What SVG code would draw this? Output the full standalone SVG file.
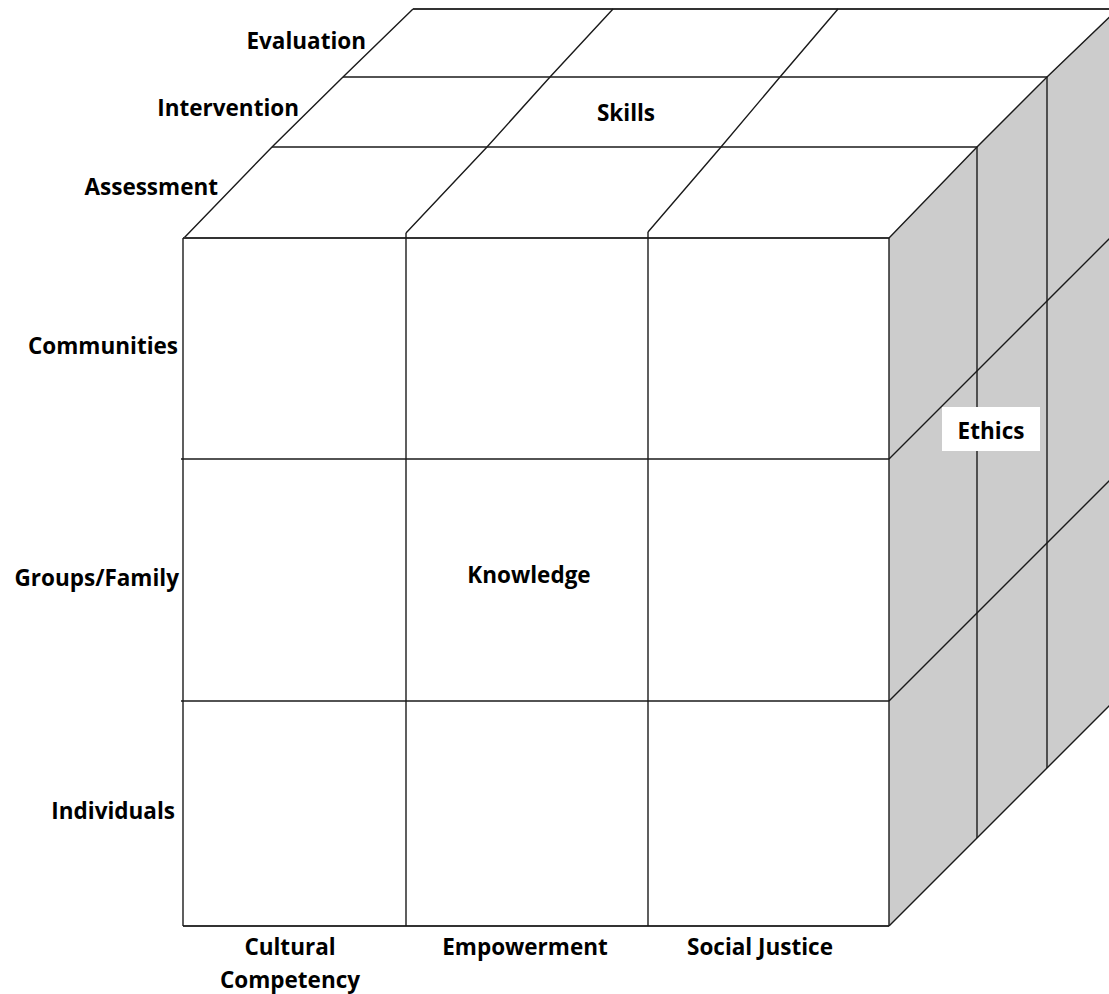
<svg xmlns="http://www.w3.org/2000/svg" width="1109" height="994" viewBox="0 0 1109 994">
  <style>
    .ln { fill: none; stroke: #1a1a1a; stroke-width: 1.4; stroke-linejoin: miter; }
    .edge { fill: none; stroke: #333; stroke-width: 1.8; }
    .lbl { font-family: "Open Sans", "Liberation Sans", sans-serif; font-weight: 700; font-size: 22.5px; fill: #000; font-variant-ligatures: none; }
  </style>
  <rect width="1109" height="994" fill="#fff"/>
  <g id="top-face">
    <polygon points="184,238 413,9 1120,9 889,238" fill="#fff"/>
    <polyline class="ln" points="184,238 272,147 343,77 413,9"/>
    <line class="edge" x1="413" y1="9" x2="1109" y2="9"/>
    <polyline class="ln" points="406,233 487,147 550,77 613,9"/>
    <polyline class="ln" points="648,232 721,147 780,77 838,9"/>
    <line class="ln" x1="272" y1="147" x2="977" y2="147"/>
    <line class="ln" x1="343" y1="77" x2="1047" y2="77"/>
  </g>
  <g id="right-face">
    <polygon points="889,238 977,147 1047,77 1120,7 1120,695 1047,768 977,838 889,926" fill="#cccccc"/>
    <polyline class="ln" points="889,238 977,147 1047,77 1120,7"/>
    <line class="ln" x1="977" y1="147" x2="977" y2="838"/>
    <line class="ln" x1="1047" y1="77" x2="1047" y2="768"/>
    <polyline class="ln" points="889,926 977,838 1047,768 1120,695"/>
    <polyline class="ln" points="889,459 977,371 1047,301 1120,228"/>
    <polyline class="ln" points="889,701 977,613 1047,543 1120,470"/>
  </g>
  <g id="front-face">
    <rect x="183" y="238" width="706" height="688" fill="#fff"/>
    <line class="edge" x1="183" y1="238" x2="889" y2="238"/>
    <line class="edge" x1="183" y1="926" x2="889" y2="926"/>
    <line class="ln" x1="183" y1="238" x2="183" y2="926"/>
    <line class="ln" x1="889" y1="238" x2="889" y2="926"/>
    <line class="ln" x1="406" y1="233" x2="406" y2="926"/>
    <line class="ln" x1="648" y1="232" x2="648" y2="926"/>
    <line class="ln" x1="181" y1="459" x2="889" y2="459"/>
    <line class="ln" x1="181" y1="701" x2="889" y2="701"/>
  </g>
  <g id="labels">
    <text id="lbl-evaluation" class="lbl" x="366" y="49" text-anchor="end">Evaluation</text>
    <text id="lbl-intervention" class="lbl" x="299" y="116" text-anchor="end">Intervention</text>
    <text id="lbl-assessment" class="lbl" x="218" y="195" text-anchor="end">Assessment</text>
    <text id="lbl-skills" class="lbl" x="626" y="121" text-anchor="middle">Skills</text>
    <text id="lbl-communities" class="lbl" x="178" y="354" text-anchor="end">Communities</text>
    <text id="lbl-groups" class="lbl" x="179" y="586" text-anchor="end">Groups/Family</text>
    <text id="lbl-individuals" class="lbl" x="175" y="819" text-anchor="end">Individuals</text>
    <text id="lbl-knowledge" class="lbl" x="529" y="583" text-anchor="middle">Knowledge</text>
    <g id="lbl-ethics">
      <rect x="942" y="407" width="98" height="44" fill="#fff"/>
      <text class="lbl" x="991" y="439" text-anchor="middle">Ethics</text>
    </g>
    <text id="lbl-cultural" class="lbl" x="290" y="955" text-anchor="middle">Cultural</text>
    <text id="lbl-competency" class="lbl" x="290" y="988" text-anchor="middle">Competency</text>
    <text id="lbl-empowerment" class="lbl" x="525" y="955" text-anchor="middle">Empowerment</text>
    <text id="lbl-social" class="lbl" x="760" y="955" text-anchor="middle">Social Justice</text>
  </g>
</svg>
